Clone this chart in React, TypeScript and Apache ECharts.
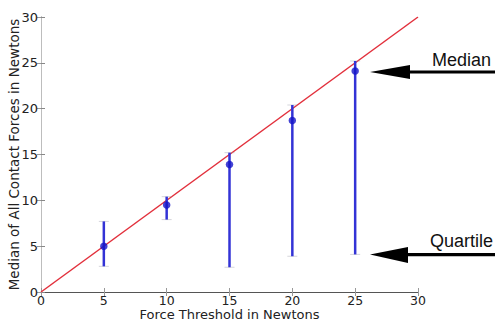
import React, { useEffect, useRef } from "react";
import * as echarts from "echarts";

const thresholds = [5, 10, 15, 20, 25];
const medians = [5.0, 9.5, 13.9, 18.7, 24.1];
const lowerQuartiles = [2.8, 7.9, 2.7, 3.9, 4.1];
const upperQuartiles = [7.7, 10.4, 15.2, 20.4, 25.2];
const idealLine = [
  [0, 0],
  [30, 30],
];
const axisMin = 0;
const axisMax = 30;
const axisStep = 5;

const FONT = "DejaVu Sans";

export default function App() {
  const ref = useRef<HTMLDivElement>(null);
  useEffect(() => {
    if (!ref.current) return;
    const chart = echarts.init(ref.current, null, { renderer: "svg" });
    const errData = thresholds.map((t, i) => [t, lowerQuartiles[i], upperQuartiles[i]]);
    const medData = thresholds.map((t, i) => [t, medians[i]]);
    const labelStyle = { color: "#222", fontFamily: FONT, fontSize: 12.5 };
    chart.setOption({
      animation: false,
      backgroundColor: "#fff",
      grid: { left: 41, top: 17, right: 77, bottom: 28, containLabel: false, outerBoundsMode: "none" },
      xAxis: [
        {
          type: "value",
          min: axisMin,
          max: axisMax,
          interval: axisStep,
          position: "bottom",
          name: "Force Threshold in Newtons",
          nameLocation: "middle",
          nameGap: 15.5,
          nameMoveOverlap: false,
          nameTextStyle: { color: "#222", fontFamily: FONT, fontSize: 13, lineHeight: 13 },
          axisLine: { lineStyle: { color: "#bdbdbd", width: 1 } },
          axisTick: { inside: true, length: 4, lineStyle: { color: "#999" } },
          axisLabel: { ...labelStyle, lineHeight: 12, margin: 2 },
          splitLine: { show: false },
        },
        {
          type: "value",
          min: axisMin,
          max: axisMax,
          interval: axisStep,
          position: "top",
          axisLine: { lineStyle: { color: "#555", width: 1.2 } },
          axisTick: { inside: true, length: 4, lineStyle: { color: "#999" } },
          axisLabel: { show: false },
          splitLine: { show: false },
        },
      ],
      yAxis: [
        {
          type: "value",
          min: axisMin,
          max: axisMax,
          interval: axisStep,
          position: "left",
          name: "Median of All Contact Forces in Newtons",
          nameLocation: "middle",
          nameGap: 20,
          nameMoveOverlap: false,
          nameTextStyle: { color: "#222", fontFamily: FONT, fontSize: 13.5 },
          axisLine: { lineStyle: { color: "#7a7a7a", width: 1 } },
          axisTick: { inside: true, length: 4, lineStyle: { color: "#888" } },
          axisLabel: { ...labelStyle, fontSize: 13, margin: 3 },
          splitLine: { show: false },
        },
        {
          type: "value",
          min: axisMin,
          max: axisMax,
          interval: axisStep,
          position: "right",
          axisLine: { lineStyle: { color: "#bdbdbd", width: 1 } },
          axisTick: { inside: true, length: 4, lineStyle: { color: "#999" } },
          axisLabel: { show: false },
          splitLine: { show: false },
        },
      ],
      series: [
        {
          type: "line",
          data: idealLine,
          xAxisIndex: 0,
          yAxisIndex: 0,
          symbol: "none",
          lineStyle: { color: "#e2303c", width: 1.5 },
          silent: true,
          z: 3,
        },
        {
          type: "custom",
          xAxisIndex: 0,
          yAxisIndex: 0,
          data: errData,
          z: 4,
          renderItem: (params: any, api: any) => {
            const x = api.value(0);
            const lo = api.coord([x, api.value(1)]);
            const hi = api.coord([x, api.value(2)]);
            const cap = 5;
            const capStyle = { stroke: "rgba(150,150,165,0.4)", lineWidth: 1 };
            return {
              type: "group",
              children: [
                {
                  type: "line",
                  shape: { x1: lo[0] - cap, y1: lo[1], x2: lo[0] + cap, y2: lo[1] },
                  style: capStyle,
                },
                {
                  type: "line",
                  shape: { x1: hi[0] - cap, y1: hi[1], x2: hi[0] + cap, y2: hi[1] },
                  style: capStyle,
                },
                {
                  type: "line",
                  shape: { x1: lo[0], y1: lo[1], x2: hi[0], y2: hi[1] },
                  style: { stroke: "#3333d6", lineWidth: 2.5 },
                },
              ],
            };
          },
        },
        {
          type: "scatter",
          xAxisIndex: 0,
          yAxisIndex: 0,
          data: medData,
          symbol: "circle",
          symbolSize: 7.5,
          itemStyle: { color: "#1414c8" },
          z: 5,
        },
      ],
      graphic: [
        {
          type: "polygon",
          shape: { points: [[370, 72], [410, 65], [410, 79]] },
          style: { fill: "#000" },
        },
        { type: "rect", shape: { x: 408, y: 70.5, width: 90, height: 3 }, style: { fill: "#000" } },
        {
          type: "text",
          x: 432,
          y: 60,
          style: {
            text: "Median",
            fill: "#111",
            font: "18px 'Liberation Sans'",
            verticalAlign: "middle",
            align: "left",
          },
        },
        {
          type: "polygon",
          shape: { points: [[370, 254.5], [408, 247], [408, 263]] },
          style: { fill: "#000" },
        },
        { type: "rect", shape: { x: 406, y: 253, width: 92, height: 3.2 }, style: { fill: "#000" } },
        {
          type: "text",
          x: 430,
          y: 241,
          style: {
            text: "Quartile",
            fill: "#111",
            font: "18px 'Liberation Sans'",
            verticalAlign: "middle",
            align: "left",
          },
        },
      ],
    });
    return () => chart.dispose();
  }, []);
  return (
    <div
      ref={ref}
      style={{ position: "fixed", left: 0, top: 0, width: 495, height: 320, background: "#fff" }}
    />
  );
}
